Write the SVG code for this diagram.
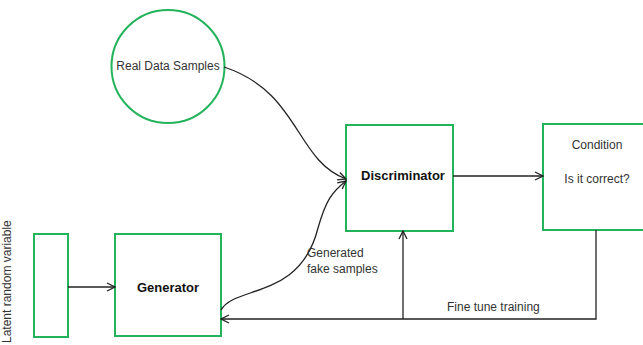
<svg xmlns="http://www.w3.org/2000/svg" width="643" height="345" viewBox="0 0 643 345">
<defs>
<style>
.node{fill:#fff;stroke:#23b35b;stroke-width:2}
.lbl{font-family:"Liberation Sans",Arial,sans-serif;font-size:12px;fill:#333}
.bold{font-family:"Liberation Sans",Arial,sans-serif;font-size:13px;font-weight:bold;fill:#111}
.edge{fill:none;stroke:#222;stroke-width:1.3}
</style>
<marker id="arr" viewBox="0 0 10 10" refX="9" refY="5" markerWidth="10" markerHeight="10" markerUnits="userSpaceOnUse" orient="auto">
<path d="M1,1 L9,5 L1,9" fill="none" stroke="#222" stroke-width="1.3"/>
</marker>
</defs>
<rect width="643" height="345" fill="#fff"/>
<g id="real-data">
<circle class="node" cx="168" cy="66.5" r="56.5"/>
<text class="lbl" x="168" y="70" text-anchor="middle">Real Data Samples</text>
</g>
<g id="discriminator">
<rect class="node" x="346" y="125" width="107" height="106"/>
<text class="bold" x="403" y="180" text-anchor="middle">Discriminator</text>
</g>
<g id="condition">
<rect class="node" x="543" y="124" width="110" height="106"/>
<text class="lbl" x="597" y="149" text-anchor="middle">Condition</text>
<text class="lbl" x="597" y="183" text-anchor="middle">Is it correct?</text>
</g>
<g id="latent">
<rect class="node" x="34" y="234" width="34" height="103"/>
<text class="lbl" style="font-size:12px" transform="translate(10.5,343) rotate(-90)" x="0" y="0">Latent random variable</text>
</g>
<g id="generator">
<rect class="node" x="115" y="234" width="106" height="102"/>
<text class="bold" x="168" y="292" text-anchor="middle">Generator</text>
</g>
<g id="connectors">
<path class="edge" d="M224,67 C300,92 295,160 346,179" marker-end="url(#arr)"/>
<path class="edge" d="M221,310 C235,285 300,300 318,228 C326,200 332,192 346,181" marker-end="url(#arr)"/>
<path class="edge" d="M453,176 L543,176" marker-end="url(#arr)"/>
<path class="edge" d="M68,287 L115,287" marker-end="url(#arr)"/>
<path class="edge" d="M403,319 L403,231" marker-end="url(#arr)"/>
<path class="edge" d="M596,230 L596,319 L221,319" marker-end="url(#arr)"/>
<text class="lbl" x="307" y="257">Generated</text>
<text class="lbl" x="307" y="273">fake samples</text>
<text class="lbl" x="447" y="311">Fine tune training</text>
</g>
</svg>
